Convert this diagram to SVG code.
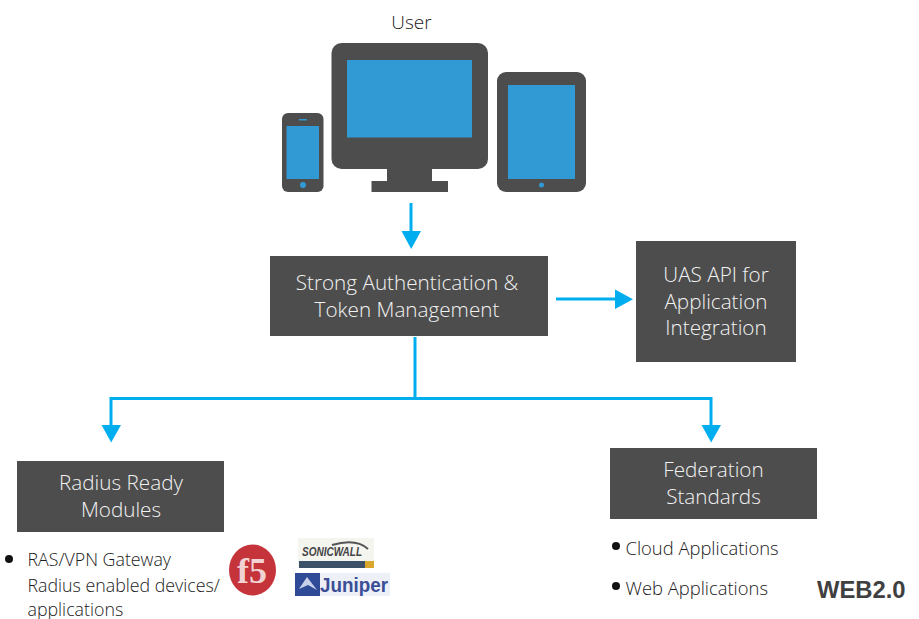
<svg xmlns="http://www.w3.org/2000/svg" width="919" height="619" viewBox="0 0 919 619">
<style>
text{font-family:"Open Sans","Noto Sans","Liberation Sans",sans-serif;font-weight:300}
.box{fill:#4d4d4d}
.lbl{fill:#f2f2f2;font-size:20.700px;text-anchor:middle}
.body{fill:#1a1a1a;font-size:17.800px}
.body2{fill:#1a1a1a;font-size:18.400px}
.dev{fill:#4d4d4d}
.scr{fill:#3199d4}
.wire{fill:none;stroke:#00aeef;stroke-width:3}
.head{fill:#00aeef}
.dot{fill:#111}
</style>
<rect width="919" height="619" fill="#fff"/>
<g id="user">
<text x="411.500" y="29" font-size="19" fill="#1a1a1a" text-anchor="middle">User</text>
<g id="phone">
<rect class="dev" x="282" y="113" width="41.500" height="79" rx="6"/>
<rect class="scr" x="286.500" y="126" width="32.500" height="53"/>
<rect class="scr" x="299" y="119" width="8" height="1.500"/>
<circle class="scr" cx="303" cy="185" r="3"/>
</g>
<g id="monitor">
<rect class="dev" x="331.500" y="43" width="156.500" height="126" rx="10"/>
<rect class="dev" x="387" y="165" width="45" height="20"/>
<rect class="dev" x="371.500" y="181" width="76.500" height="11"/>
<rect class="scr" x="347" y="60" width="125" height="77.500"/>
</g>
<g id="tablet">
<rect class="dev" x="497" y="72" width="89" height="120" rx="9"/>
<rect class="scr" x="508" y="85" width="67" height="94"/>
<circle class="scr" cx="541.500" cy="185" r="2.500"/>
</g>
</g>
<g id="connectors">
<path class="wire" d="M411 203V233"/>
<path class="head" d="M401.500 231H421L411.200 249Z"/>
<path class="wire" d="M556 299H617"/>
<path class="head" d="M615 289.500V309L633 299.200Z"/>
<path class="wire" d="M415 337V398.500M111 426V398.500H711V426"/>
<path class="head" d="M101.500 425H121L111.200 442.500Z"/>
<path class="head" d="M701.500 425H721L711.200 442.500Z"/>
</g>
<g id="auth">
<rect class="box" x="270" y="256" width="278" height="80"/>
<text class="lbl" x="407" y="290">Strong Authentication &amp;</text>
<text class="lbl" x="407" y="317">Token Management</text>
</g>
<g id="api">
<rect class="box" x="636" y="241" width="160" height="121"/>
<text class="lbl" x="716" y="282">UAS API for</text>
<text class="lbl" x="716" y="309">Application</text>
<text class="lbl" x="716" y="335">Integration</text>
</g>
<g id="radius">
<rect class="box" x="17" y="461" width="207" height="71"/>
<text class="lbl" x="121" y="490">Radius Ready</text>
<text class="lbl" x="121" y="517">Modules</text>
</g>
<g id="federation">
<rect class="box" x="610" y="448" width="207" height="71"/>
<text class="lbl" x="713.500" y="477">Federation</text>
<text class="lbl" x="713.500" y="504">Standards</text>
</g>
<g id="radius-list">
<circle class="dot" cx="9" cy="559" r="4"/>
<text class="body" x="27.500" y="566">RAS/VPN Gateway</text>
<text class="body" x="27.500" y="591.500">Radius enabled devices/</text>
<text class="body" x="27.500" y="615.500">applications</text>
</g>
<g id="logos">
<ellipse cx="252.500" cy="570" rx="23.500" ry="25.500" fill="#c4343a"/>
<text x="252" y="583" font-size="36" fill="#f1d3d3" text-anchor="middle" style="font-family:'Liberation Serif',serif;font-weight:700">f5</text>
<rect x="298" y="538" width="76" height="30" fill="#f5f5f0"/>
<rect x="299" y="561" width="66" height="7" fill="#3c5068"/>
<rect x="365" y="561" width="9" height="7" fill="#d9a72e"/>
<text x="302" y="556" font-size="12" fill="#444" textLength="60" lengthAdjust="spacingAndGlyphs" style="font-family:'Liberation Sans',sans-serif;font-weight:700;font-style:italic">SONICWALL</text>
<path d="M332 545Q356 538 368 549" fill="none" stroke="#555" stroke-width="2"/>
<rect x="295" y="573" width="95" height="23" fill="#eef0f7"/>
<rect x="295" y="573" width="25" height="23" fill="#2f4a96"/>
<path d="M299 589L307 577L317 590L308 585Z" fill="#c7d0e8"/>
<text x="320" y="592" font-size="20" fill="#3a4f96" textLength="68" lengthAdjust="spacingAndGlyphs" style="font-family:'Liberation Sans',sans-serif;font-weight:700">Juniper</text>
</g>
<g id="fed-list">
<circle class="dot" cx="616" cy="546" r="4"/>
<text class="body2" x="625.500" y="555">Cloud Applications</text>
<circle class="dot" cx="616" cy="586" r="4"/>
<text class="body2" x="625.500" y="595">Web Applications</text>
</g>
<text x="817" y="598" font-size="23.800" fill="#404040" style="font-family:'Liberation Sans',sans-serif;font-weight:700">WEB2.0</text>
</svg>
